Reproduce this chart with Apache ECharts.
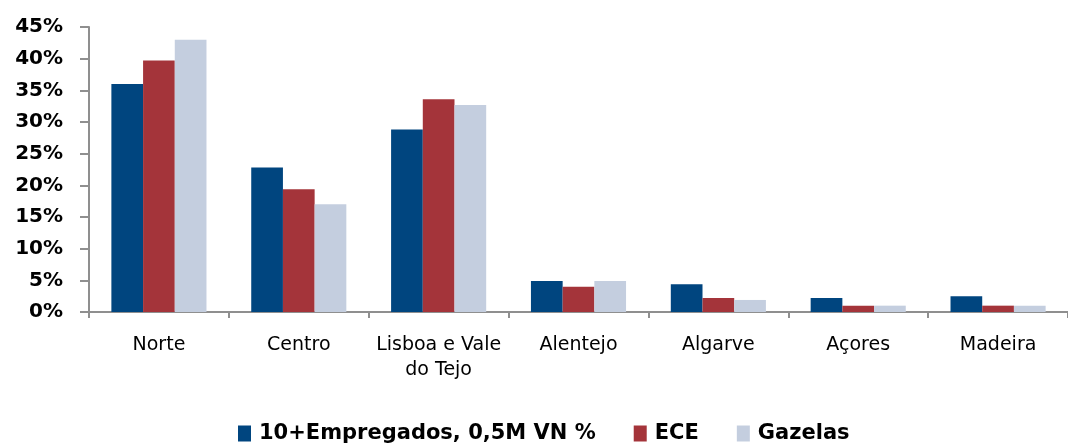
<!DOCTYPE html>
<html>
<head>
<meta charset="utf-8">
<script src="https://cdn.jsdelivr.net/npm/echarts@6/dist/echarts.min.js"></script>
<style>
html,body{margin:0;padding:0;background:#fff;}
#c{width:1068px;height:445px;}
</style>
</head>
<body>
<div id="c"></div>
<script>
var categories = ['Norte', 'Centro', 'Lisboa e Vale\ndo Tejo', 'Alentejo', 'Algarve', 'Açores', 'Madeira'];
var seriesNames = ['10+Empregados, 0,5M VN %', 'ECE', 'Gazelas'];
var empregados = [36.0, 22.8, 28.8, 4.9, 4.4, 2.2, 2.5];
var ece = [39.7, 19.4, 33.6, 4.0, 2.2, 1.0, 1.0];
var gazelas = [43.0, 17.0, 32.7, 4.9, 1.9, 1.0, 1.0];
var colors = ['#00457F', '#A4343A', '#C4CEDF'];

var chart = echarts.init(document.getElementById('c'), null, {renderer: 'canvas'});
var axisColor = '#8f8f8f';
chart.setOption({
  animation: false,
  color: colors,
  grid: {left: 89, right: 0, top: 27, bottom: 133, containLabel: false},
  legend: {
    data: seriesNames,
    left: 233,
    top: 418,
    icon: 'rect',
    itemWidth: 13,
    itemHeight: 16,
    itemGap: 38,
    textStyle: {fontFamily: 'DejaVu Sans', fontWeight: 'bold', fontSize: 21, color: '#000', padding: [0, 0, 0, 3]}
  },
  xAxis: {
    type: 'category',
    data: categories,
    axisLine: {lineStyle: {color: axisColor, width: 2}},
    axisTick: {show: true, length: 6, lineStyle: {color: axisColor, width: 2}},
    axisLabel: {interval: 0, margin: 21, fontFamily: 'DejaVu Sans', fontSize: 19, lineHeight: 25, color: '#000'}
  },
  yAxis: {
    type: 'value', min: 0, max: 45, interval: 5,
    splitLine: {show: false},
    axisLine: {show: true, lineStyle: {color: axisColor, width: 2}},
    axisTick: {show: true, length: 9, lineStyle: {color: axisColor, width: 2}},
    axisLabel: {formatter: '{value}%', margin: 26, fontFamily: 'DejaVu Sans', fontWeight: 'bold', fontSize: 20, color: '#000'}
  },
  series: [
    {name: seriesNames[0], type: 'bar', data: empregados, barGap: '0%', barCategoryGap: '32%'},
    {name: seriesNames[1], type: 'bar', data: ece, barGap: '0%', barCategoryGap: '32%'},
    {name: seriesNames[2], type: 'bar', data: gazelas, barGap: '0%', barCategoryGap: '32%'}
  ]
});
</script>
</body>
</html>
